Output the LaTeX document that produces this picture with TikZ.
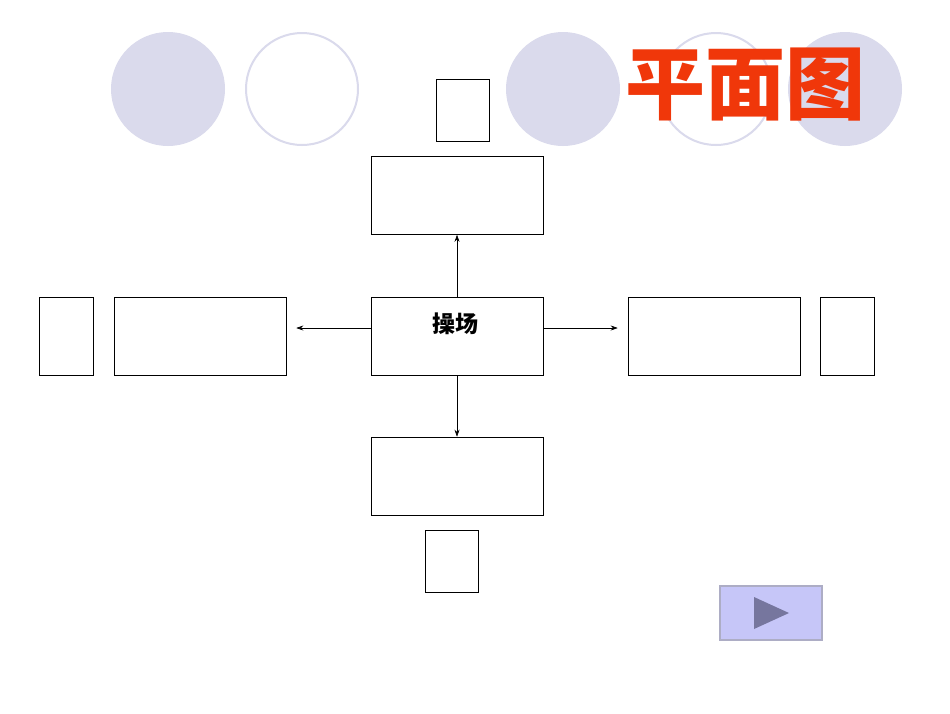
\documentclass[tikz,border=0pt]{standalone}
\usepackage{fontspec}
\newfontfamily\cjk{Noto Sans CJK SC}
\usetikzlibrary{arrows.meta}
\definecolor{circ}{RGB}{218,218,236}
\definecolor{ttl}{RGB}{240,55,10}
\definecolor{btn}{RGB}{198,198,248}
\definecolor{tri}{RGB}{118,118,158}
\begin{document}
\begin{tikzpicture}[x=1pt,y=-1pt,
  box/.style={draw,line width=0.6pt,minimum width=172pt,minimum height=78pt,inner sep=0pt},
  sbox/.style={draw,line width=0.6pt,minimum width=53pt,minimum height=62pt,inner sep=0pt},
  tbox/.style={draw,line width=0.6pt,minimum width=54pt,minimum height=78pt,inner sep=0pt},
  arr/.style={-{Stealth[length=7pt,width=5pt]},line width=0.6pt}]
\useasboundingbox (0,0) rectangle (950,713);
\fill[white] (0,0) rectangle (950,713);
\fill[circ] (168,89) circle (57);
\draw[circ,line width=2pt] (302,89) circle (56);
\fill[circ] (563,89) circle (57);
\draw[circ,line width=2pt] (716,89) circle (56);
\fill[circ] (845,89) circle (57);
\node[text=ttl,font=\cjk\bfseries\fontsize{80}{84}\selectfont] (title) at (745,85) {平面图};
\node[sbox] (ts) at (462.5,110) {};
\node[box] (t) at (457,195.5) {};
\node[box] (c) at (457,336) {};
\node[font=\cjk\bfseries\fontsize{23}{24}\selectfont] (ct) at (455,324) {操场};
\node[box] (l) at (200,336) {};
\node[tbox] (ls) at (66,336) {};
\node[box] (r) at (714,336) {};
\node[tbox] (rs) at (847.5,336) {};
\node[box] (b) at (457,476) {};
\node[sbox] (bs) at (451.5,561.5) {};
\draw[arr] (c.north) -- (t.south);
\draw[arr] (c.south) -- (b.north);
\draw[arr] ([yshift=8pt]c.west) -- ([xshift=10pt,yshift=8pt]l.east);
\draw[arr] ([yshift=8pt]c.east) -- ([xshift=-10pt,yshift=8pt]r.west);
\node[draw=tri!60,line width=1.5pt,fill=btn,minimum width=102pt,minimum height=54pt,inner sep=0pt] (btn) at (771,613) {};
\fill[tri] (754,597) -- (789,613) -- (754,629) -- cycle;
\end{tikzpicture}
\end{document}
